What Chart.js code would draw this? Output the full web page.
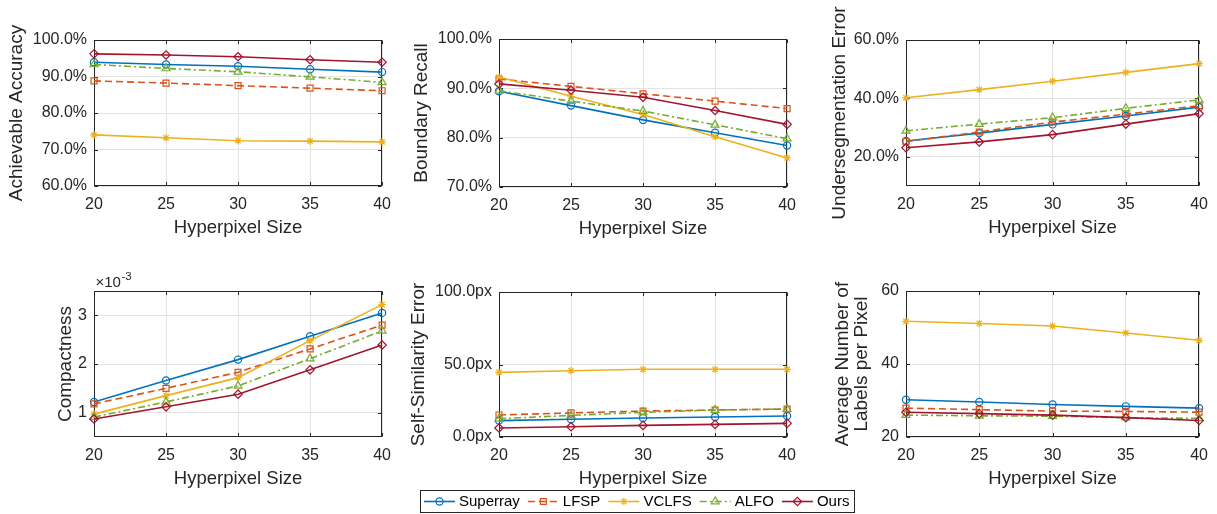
<!DOCTYPE html>
<html>
<head>
<meta charset="utf-8">
<script src="https://cdn.jsdelivr.net/npm/chart.js@4/dist/chart.umd.min.js"></script>
<style>
  html, body { margin:0; padding:0; background:#fff; }
  body { width:1217px; height:514px; overflow:hidden; position:relative; }
  canvas { position:absolute; }
</style>
</head>
<body>
<canvas id="c1" width="400" height="239" style="left:0px;top:0px"></canvas>
<canvas id="c2" width="405" height="240" style="left:400px;top:0px"></canvas>
<canvas id="c3" width="412" height="239" style="left:805px;top:0px"></canvas>
<canvas id="c4" width="400" height="245" style="left:0px;top:245px"></canvas>
<canvas id="c5" width="405" height="245" style="left:400px;top:245px"></canvas>
<canvas id="c6" width="412" height="245" style="left:805px;top:245px"></canvas>
<canvas id="cl" width="455" height="32" style="left:410px;top:482px"></canvas>
<script>
// ---------------- DATA ----------------
const hyperpixelSizes = ['20', '25', '30', '35', '40'];
const seriesNames = ['Superray', 'LFSP', 'VCLFS', 'ALFO', 'Ours'];

// Achievable Accuracy (%)
const aaSuperray = [93.9, 93.3, 92.8, 92.0, 91.2];
const aaLFSP     = [88.8, 88.2, 87.5, 86.8, 86.1];
const aaVCLFS    = [74.0, 73.2, 72.4, 72.3, 72.1];
const aaALFO     = [93.3, 92.2, 91.3, 89.9, 88.4];
const aaOurs     = [96.2, 95.9, 95.4, 94.6, 93.9];
const aaTicks    = [60, 70, 80, 90, 100];

// Boundary Recall (%)
const brSuperray = [89.4, 86.5, 83.6, 81.0, 78.4];
const brLFSP     = [91.9, 90.4, 88.9, 87.4, 85.9];
const brVCLFS    = [92.3, 88.4, 84.7, 80.2, 75.9];
const brALFO     = [89.5, 87.4, 85.4, 82.6, 79.8];
const brOurs     = [90.9, 89.6, 88.2, 85.5, 82.7];
const brTicks    = [70, 80, 90, 100];

// Undersegmentation Error (%)
const ueSuperray = [25.4, 28.1, 31.1, 34.0, 37.0];
const ueLFSP     = [25.2, 28.5, 31.9, 34.6, 37.5];
const ueVCLFS    = [40.2, 43.0, 45.9, 48.9, 51.9];
const ueALFO     = [28.9, 31.2, 33.4, 36.6, 39.5];
const ueOurs     = [23.1, 25.1, 27.6, 31.2, 34.8];
const ueTicks    = [20, 40, 60];

// Compactness
const coSuperray = [1.22e-3, 1.66e-3, 2.09e-3, 2.57e-3, 3.05e-3];
const coLFSP     = [1.18e-3, 1.50e-3, 1.83e-3, 2.31e-3, 2.80e-3];
const coVCLFS    = [0.97e-3, 1.35e-3, 1.72e-3, 2.48e-3, 3.22e-3];
const coALFO     = [0.91e-3, 1.22e-3, 1.55e-3, 2.11e-3, 2.68e-3];
const coOurs     = [0.87e-3, 1.12e-3, 1.38e-3, 1.88e-3, 2.39e-3];
const coTicks    = [1e-3, 2e-3, 3e-3];

// Self-Similarity Error (px)
const ssSuperray = [11.3, 12.2, 13.1, 13.8, 14.5];
const ssLFSP     = [15.2, 16.6, 17.9, 18.6, 19.3];
const ssVCLFS    = [44.6, 45.7, 46.7, 46.7, 46.7];
const ssALFO     = [12.6, 14.9, 17.0, 18.6, 19.3];
const ssOurs     = [6.2, 7.1, 8.0, 8.7, 9.4];
const ssTicks    = [0, 50, 100];

// Average Number of Labels per Pixel
const lpSuperray = [30.2, 29.6, 28.9, 28.4, 27.9];
const lpLFSP     = [27.9, 27.5, 27.1, 27.0, 26.8];
const lpVCLFS    = [51.7, 51.1, 50.4, 48.5, 46.5];
const lpALFO     = [26.0, 25.8, 25.7, 25.3, 25.1];
const lpOurs     = [26.8, 26.4, 26.0, 25.3, 24.5];
const lpTicks    = [20, 40, 60];

// ---------------- STYLES ----------------
const FONT = "'Liberation Sans', Arial, Helvetica, sans-serif";
const TXT = '#262626';
const seriesStyles = [
  { color: '#0072BD', dash: [],            style: 'circle',   radius: 3.6 },
  { color: '#D95319', dash: [7, 4],        style: 'rect',     radius: 4.2 },
  { color: '#EDB120', dash: [],            style: 'star',     radius: 3.8 },
  { color: '#77AC30', dash: [7, 3, 2, 3],  style: 'triangle', radius: 4.6 },
  { color: '#A2142F', dash: [],            style: 'rectRot',  radius: 4.2 }
];

const boxPlugin = {
  id: 'matlabBox',
  beforeDatasetsDraw(chart) {
    const ctx = chart.ctx;
    const a = chart.chartArea;
    const L = Math.round(a.left) + 0.5, R = Math.round(a.right) - 0.5;
    const T = Math.round(a.top) + 0.5, B = Math.round(a.bottom) - 0.5;
    ctx.save();
    ctx.strokeStyle = TXT;
    ctx.lineWidth = 1;
    ctx.strokeRect(L, T, R - L, B - T);
    const tl = 3.5;
    ctx.beginPath();
    const ys = chart.scales.y;
    ys.ticks.forEach(t => {
      const y = Math.round(ys.getPixelForValue(t.value)) + 0.5;
      ctx.moveTo(L, y); ctx.lineTo(L + tl, y);
      ctx.moveTo(R, y); ctx.lineTo(R - tl, y);
    });
    const xs = chart.scales.x;
    xs.ticks.forEach((t, i) => {
      const x = Math.round(xs.getPixelForTick(i)) + 0.5;
      ctx.moveTo(x, B); ctx.lineTo(x, B - tl);
      ctx.moveTo(x, T); ctx.lineTo(x, T + tl);
    });
    ctx.stroke();
    ctx.restore();
  },
  afterDraw(chart, args, opts) {
    if (!opts || !opts.exponent) return;
    const ctx = chart.ctx;
    const a = chart.chartArea;
    ctx.save();
    ctx.fillStyle = TXT;
    ctx.textBaseline = 'alphabetic';
    ctx.textAlign = 'left';
    ctx.font = '15px ' + FONT;
    const base = '\u00D710';
    const x0 = a.left + 1.5, y0 = a.top - 4;
    ctx.fillText(base, x0, y0);
    const w = ctx.measureText(base).width;
    ctx.font = '11.5px ' + FONT;
    ctx.fillText(opts.exponent, x0 + w + 0.5, y0 - 7);
    ctx.restore();
  }
};

function makeDatasets(values) {
  return values.map((vals, i) => {
    const s = seriesStyles[i];
    return {
      label: seriesNames[i],
      data: vals,
      borderColor: s.color,
      borderDash: s.dash,
      borderWidth: 1.6,
      pointStyle: s.style,
      pointRadius: s.radius,
      pointBorderWidth: 1.2,
      pointBorderColor: s.color,
      pointBackgroundColor: 'rgba(255,255,255,0)',
      tension: 0,
      fill: false,
      clip: false,
      order: values.length - i
    };
  });
}

function buildChart(id, o) {
  return new Chart(document.getElementById(id), {
    type: 'line',
    data: { labels: hyperpixelSizes, datasets: makeDatasets(o.values) },
    options: {
      responsive: false,
      animation: false,
      devicePixelRatio: 1,
      events: [],
      layout: { padding: { top: o.padTop, right: o.padRight, left: 0, bottom: 0 } },
      plugins: {
        legend: { display: false },
        tooltip: { enabled: false },
        matlabBox: { exponent: o.exponent || null }
      },
      scales: {
        x: {
          type: 'category',
          offset: false,
          afterFit: s => { s.height = 53; },
          grid: { color: '#e3e3e3', lineWidth: 1, drawTicks: false, offset: false },
          border: { display: false },
          ticks: { color: TXT, font: { family: FONT, size: 16 }, padding: 9, maxRotation: 0 },
          title: { display: true, text: 'Hyperpixel Size', color: TXT,
                   font: { family: FONT, size: 18.5, lineHeight: 1.2 }, padding: { top: 0, bottom: 0 } }
        },
        y: {
          type: 'linear',
          min: o.min, max: o.max,
          afterFit: s => { s.width = o.yWidth; },
          afterBuildTicks: s => { s.ticks = o.ticks.map(v => ({ value: v })); },
          grid: { color: '#e3e3e3', lineWidth: 1, drawTicks: false },
          border: { display: false },
          ticks: { color: TXT, font: { family: FONT, size: 16 }, padding: 7, callback: o.fmt },
          title: { display: true, text: o.title, color: TXT,
                   font: { family: FONT, size: 19, lineHeight: o.titleLH || 1.2 },
                   padding: { top: o.titlePad, bottom: 0 } }
        }
      }
    },
    plugins: [boxPlugin]
  });
}

const pct = v => v.toFixed(1) + '%';

buildChart('c1', { values: [aaSuperray, aaLFSP, aaVCLFS, aaALFO, aaOurs], ticks: aaTicks,
  min: 60, max: 100, fmt: pct, title: 'Achievable Accuracy', titlePad: 5,
  padTop: 40, padRight: 10, yWidth: 94 });
buildChart('c2', { values: [brSuperray, brLFSP, brVCLFS, brALFO, brOurs], ticks: brTicks,
  min: 70, max: 100, fmt: pct, title: 'Boundary Recall', titlePad: 10.5,
  padTop: 39, padRight: 10, yWidth: 99 });
buildChart('c3', { values: [ueSuperray, ueLFSP, ueVCLFS, ueALFO, ueOurs], ticks: ueTicks,
  min: 10, max: 60, fmt: pct, title: 'Undersegmentation Error', titlePad: 23,
  padTop: 40, padRight: 16, yWidth: 101 });
buildChart('c4', { values: [coSuperray, coLFSP, coVCLFS, coALFO, coOurs], ticks: coTicks,
  min: 0.5e-3, max: 3.5e-3, fmt: v => String(Math.round(v * 1000)), title: 'Compactness', titlePad: 54,
  padTop: 46, padRight: 10, yWidth: 94, exponent: '-3' });
buildChart('c5', { values: [ssSuperray, ssLFSP, ssVCLFS, ssALFO, ssOurs], ticks: ssTicks,
  min: 0, max: 100, fmt: v => v.toFixed(1) + 'px', title: 'Self-Similarity Error', titlePad: 7,
  padTop: 47, padRight: 10, yWidth: 99 });
buildChart('c6', { values: [lpSuperray, lpLFSP, lpVCLFS, lpALFO, lpOurs], ticks: lpTicks,
  min: 20, max: 60, fmt: v => String(v), title: ['Average Number of', 'Labels per Pixel'],
  titlePad: 29, titleLH: 0.97, padTop: 46, padRight: 16, yWidth: 101 });

// ---------------- LEGEND ----------------
const legendPlugin = {
  id: 'matlabLegend',
  afterDraw(chart) {
    const ctx = chart.ctx;
    const dsets = chart.data.datasets;
    const lineLen = 31, gapText = 4, gapItem = 8;
    ctx.save();
    ctx.font = '15px ' + FONT;
    const widths = dsets.map(ds => ctx.measureText(ds.label).width);
    const total = widths.reduce((acc, w) => acc + lineLen + gapText + w, 0) + gapItem * (dsets.length - 1);
    let x = Math.round(chart.width / 2 - 1 - total / 2);
    const cy = 19;
    const yLine = Math.round(cy) + 0.5;
    const startX = x;
    dsets.forEach((ds, i) => {
      ctx.strokeStyle = ds.borderColor;
      ctx.lineWidth = 1.6;
      ctx.setLineDash(ds.borderDash || []);
      ctx.beginPath(); ctx.moveTo(x, yLine); ctx.lineTo(x + lineLen, yLine); ctx.stroke();
      ctx.setLineDash([]);
      ctx.lineWidth = 1.2;
      ctx.fillStyle = 'rgba(255,255,255,0)';
      Chart.helpers.drawPoint(ctx, { pointStyle: ds.pointStyle, radius: ds.pointRadius, rotation: 0, borderWidth: 1.2 }, x + lineLen / 2, yLine);
      ctx.fillStyle = '#000';
      ctx.textBaseline = 'middle';
      ctx.textAlign = 'left';
      ctx.fillText(ds.label, x + lineLen + gapText, cy + 0.5);
      x += lineLen + gapText + widths[i] + gapItem;
    });
    const endX = x - gapItem;
    ctx.strokeStyle = TXT;
    ctx.lineWidth = 1;
    const L = Math.round(startX - 4) + 0.5, R = Math.round(endX + 5) + 0.5;
    const T = Math.round(cy - 11) + 0.5, B = Math.round(cy + 11) + 0.5;
    ctx.strokeRect(L, T, R - L, B - T);
    ctx.restore();
  }
};

new Chart(document.getElementById('cl'), {
  type: 'line',
  data: {
    labels: [],
    datasets: seriesNames.map((n, i) => ({
      label: n, data: [],
      borderColor: seriesStyles[i].color, borderDash: seriesStyles[i].dash,
      pointStyle: seriesStyles[i].style, pointRadius: seriesStyles[i].radius
    }))
  },
  options: {
    responsive: false, animation: false, devicePixelRatio: 1, events: [],
    scales: { x: { display: false }, y: { display: false } },
    plugins: { tooltip: { enabled: false }, legend: { display: false } }
  },
  plugins: [legendPlugin]
});
</script>
</body>
</html>
